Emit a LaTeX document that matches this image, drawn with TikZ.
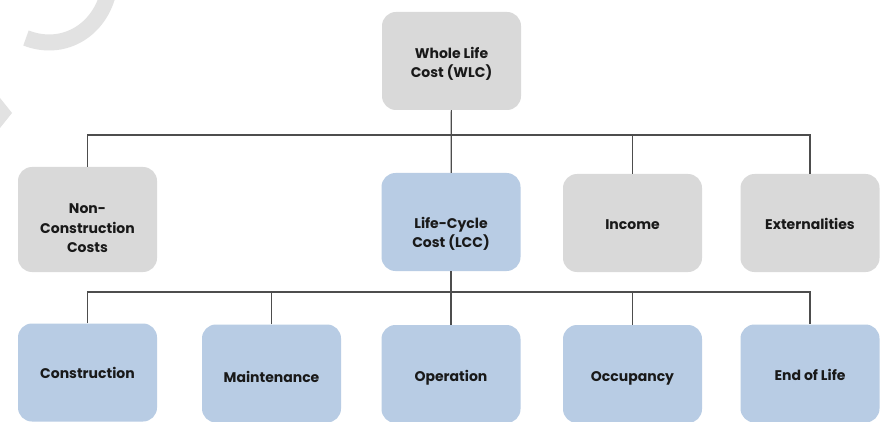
\documentclass[tikz,border=0pt]{standalone}
\usepackage{fontspec}
\setmainfont{Poppins}
\definecolor{boxgray}{HTML}{D9D9D9}
\definecolor{boxblue}{HTML}{B8CCE4}
\definecolor{linegray}{HTML}{4D4D4D}
\definecolor{markgray}{HTML}{E2E2E2}
\tikzset{
  costbox/.style={rectangle, rounded corners=14pt, minimum width=139pt, minimum height=98pt,
    align=center, font=\fontsize{14}{19.5}\selectfont\bfseries, text=black!90, inner sep=2pt},
  graybox/.style={costbox, fill=boxgray},
  bluebox/.style={costbox, fill=boxblue},
  textdrop/.style={execute at begin node={\rule{0pt}{#1}}},
  link/.style={draw=linegray, line width=1.2pt}
}
\begin{document}
\begin{tikzpicture}[x=1pt,y=-1pt]
\path[fill=white] (0,0) rectangle (880,422);
\useasboundingbox (0,0) rectangle (880,422);

% watermark pieces
\draw[markgray, line width=16pt] (26,38) .. controls (62,52) and (98,32) .. (108,-6);
\fill[markgray] (0,98) -- (12,113) -- (0,128) -- cycle;

\node[graybox, textdrop=36pt] (wlc) at (451.5,61) {Whole Life\\Cost (WLC)};

\node[graybox, minimum height=105pt, textdrop=67pt] (ncc) at (87.5,219.5) {Non-\\Construction\\Costs};
\node[bluebox, textdrop=54pt] (lcc) at (451,222) {Life-Cycle\\Cost (LCC)};
\node[graybox, textdrop=14pt] (inc) at (632.5,223) {Income};
\node[graybox, textdrop=14pt] (ext) at (810,223) {Externalities};

\node[bluebox] (con) at (87.5,372.5) {Construction};
\node[bluebox, textdrop=18pt] (mai) at (271.5,373.5) {Maintenance};
\node[bluebox, textdrop=18pt] (ope) at (451,374) {Operation};
\node[bluebox, textdrop=18pt] (occ) at (632.5,374) {Occupancy};
\node[bluebox, textdrop=15pt] (eol) at (810,373.5) {End of Life};

\coordinate (bus1) at (451,135);
\coordinate (bus2) at (451,292);

\path[link] (wlc) -- (lcc);
\path[link] (ncc.north) |- (bus1) -| (ext.north);
\path[link] (inc.north) -- (inc.north|-bus1);

\path[link] (lcc) -- (ope);
\path[link] (con.north) |- (bus2) -| (eol.north);
\path[link] (mai.north) -- (mai.north|-bus2);
\path[link] (occ.north) -- (occ.north|-bus2);
\end{tikzpicture}
\end{document}
